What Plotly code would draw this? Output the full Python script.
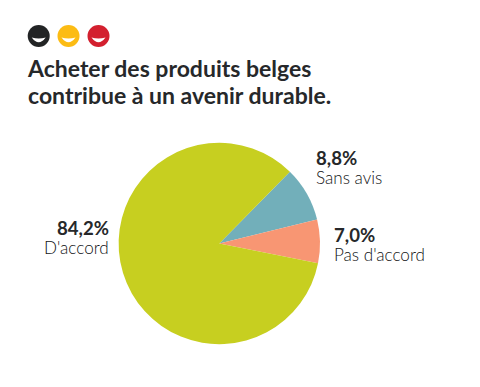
import plotly.graph_objects as go

W, H = 480, 387
labels = ["Sans avis", "Pas d'accord", "D'accord"]
values = [8.8, 7.0, 84.2]
value_text = ["8,8%", "7,0%", "84,2%"]
colors = ["#72afba", "#f89673", "#c7cf20"]
title_lines = ["Acheter des produits belges", "contribue à un avenir durable."]
dot_colors = ["#222425", "#fcbc14", "#d3202f"]
FONT = "Lato"
INK = "#26282a"

cx, cy, r = 219.3, 243.5, 100.7
fig = go.Figure(go.Pie(
    labels=labels, values=values, sort=False, direction="clockwise", rotation=44.5,
    marker=dict(colors=colors, line=dict(width=0)),
    textinfo="none", hoverinfo="label+percent", showlegend=False,
    domain=dict(x=[(cx-r)/W, (cx+r)/W], y=[1-(cy+r)/H, 1-(cy-r)/H]),
))

shapes, annotations = [], []
def px(x): return x/W
def py(y): return 1-y/H

for c, col in zip([38.7, 68.5, 98.5], dot_colors):
    shapes.append(dict(type="circle", xref="paper", yref="paper", layer="above",
                       x0=px(c-11), x1=px(c+11), y0=py(36+11), y1=py(36-11),
                       fillcolor=col, line_width=0))
    p = (f"M {px(c-7)} {py(37.5)} Q {px(c)} {py(39.5)} {px(c+7)} {py(37.5)} "
         f"Q {px(c)} {py(47)} {px(c-7)} {py(37.5)} Z")
    shapes.append(dict(type="path", xref="paper", yref="paper", layer="above", path=p,
                       fillcolor="white", line_width=0))

def text(x, y, t, size, anchor="left", bold=False):
    annotations.append(dict(x=px(x), y=py(y), xref="paper", yref="paper", xanchor=anchor,
                            yanchor="middle", showarrow=False, align=anchor, borderpad=0, borderwidth=0,
                            text=f"<b>{t}</b>" if bold else t,
                            font=dict(family=FONT, size=size, color=INK if bold else "#111315",
                                      weight=700 if bold else 300)))

text(27, 68.5, title_lines[0], 23, bold=True)
text(28, 94.5, title_lines[1], 23, bold=True)
text(316, 157.5, value_text[0], 18.6, bold=True)
text(316, 177.5, labels[0], 17.1)
text(334, 235, value_text[1], 18.6, bold=True)
text(334, 255, labels[1], 17.1)
text(109, 228, value_text[2], 18.6, "right", True)
text(109, 248, labels[2], 17.1, "right")

fig.update_layout(width=W, height=H, margin=dict(l=0, r=0, t=0, b=0),
                  paper_bgcolor="white", shapes=shapes, annotations=annotations)
fig.write_html("out.html", config=dict(displayModeBar=False),
               post_script="document.body.style.margin='0';document.documentElement.style.overflow='hidden';")
